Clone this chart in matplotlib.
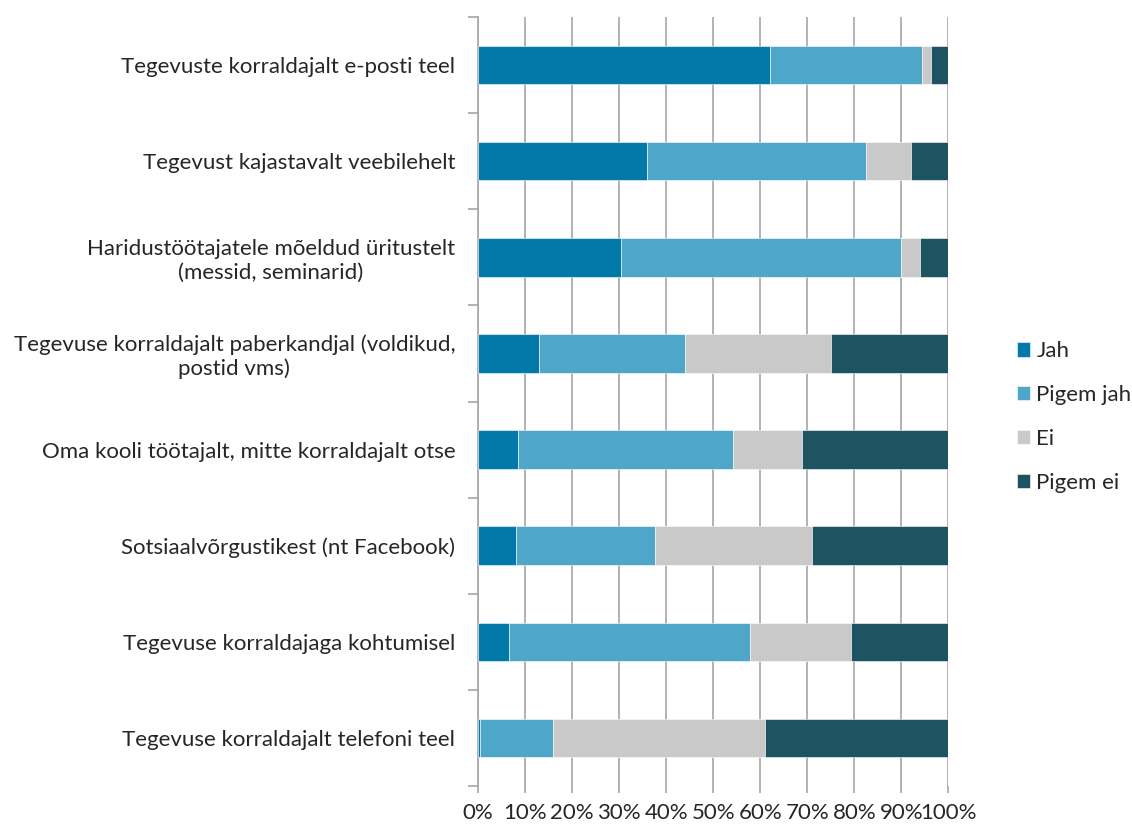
import numpy as np
import matplotlib.pyplot as plt
from matplotlib.ticker import FixedLocator, PercentFormatter

plt.rcParams['font.family'] = ['Lato', 'DejaVu Sans']

# andmed (protsendid), ülevalt alla
kategooriad = [
    "Tegevuste korraldajalt e-posti teel",
    "Tegevust kajastavalt veebilehelt",
    "Haridustöötajatele mõeldud üritustelt\n(messid, seminarid)",
    "Tegevuse korraldajalt paberkandjal (voldikud,\npostid vms)",
    "Oma kooli töötajalt, mitte korraldajalt otse",
    "Sotsiaalvõrgustikest (nt Facebook)",
    "Tegevuse korraldajaga kohtumisel",
    "Tegevuse korraldajalt telefoni teel",
]
jah = [62.1, 35.9, 30.4, 13.0, 8.6, 8.1, 6.6, 0.5]
pigem_jah = [32.2, 46.6, 59.6, 31.0, 45.7, 29.6, 51.3, 15.4]
ei = [1.9, 9.5, 4.0, 31.0, 14.6, 33.3, 21.4, 45.2]
pigem_ei = [3.8, 8.0, 6.0, 25.0, 31.1, 29.0, 20.7, 38.9]

seeriad = ["Jah", "Pigem jah", "Ei", "Pigem ei"]
varvid = ["#0279A8", "#4EA6C9", "#C8C9C8", "#1E5461"]

fig = plt.figure(figsize=(11.32, 8.27), dpi=100)
ax = fig.add_axes([0.4223, 0.0496, 0.4155, 0.9298])

y = np.arange(len(kategooriad))
vasak = np.zeros(len(kategooriad))
for nimi, vaartused, col in zip(seeriad, [jah, pigem_jah, ei, pigem_ei], varvid):
    ax.barh(y, vaartused, left=vasak, height=0.4, color=col, label=nimi,
            edgecolor='white', linewidth=0.4, zorder=3)
    vasak += np.array(vaartused)

ax.set_xlim(0, 100)
ax.set_ylim(len(kategooriad) - 0.5, -0.5)
ax.xaxis.set_major_locator(FixedLocator(np.arange(0, 101, 10)))
ax.xaxis.set_major_formatter(PercentFormatter(decimals=0))
ax.grid(axis='x', color='#A6A6A6', linewidth=1.2, zorder=0)

ax.set_yticks(y)
ax.set_yticklabels(kategooriad, multialignment='center')
ax.yaxis.set_minor_locator(FixedLocator(np.arange(-0.5, len(kategooriad), 1)))
ax.tick_params(axis='y', which='major', length=0, pad=16.5, labelsize=16, labelcolor='#262626')
ax.tick_params(axis='y', which='minor', length=7, color='#A6A6A6', width=1.2)
ax.tick_params(axis='x', length=5, color='#A6A6A6', width=1.2, labelsize=16,
               labelcolor='#262626', pad=7)

for s in ['top', 'right', 'bottom']:
    ax.spines[s].set_visible(False)
ax.spines['left'].set_color('#A6A6A6')
ax.spines['left'].set_linewidth(1.2)

fig.legend(loc='center left', bbox_to_anchor=(0.8807, 0.4958), frameon=False,
           fontsize=16, handlelength=0.6, handleheight=0.6, handletextpad=0.27,
           labelspacing=1.07, labelcolor='#262626')

fig.savefig("out.png", dpi=100)
